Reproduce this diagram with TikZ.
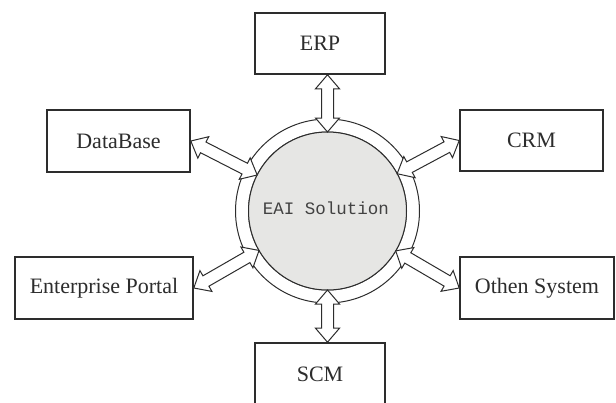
\documentclass[tikz,border=0pt]{standalone}
\usepackage{fontspec}
\setmainfont{Liberation Serif}
\newfontfamily\eaimono{Liberation Mono}
\usetikzlibrary{calc}
\definecolor{ln}{RGB}{45,45,45}
\definecolor{txt}{RGB}{45,45,45}
\definecolor{cfill}{RGB}{230,230,228}
\newcommand\dblarrow[2]{%
 \coordinate (ta) at ($(#1)!14pt!(#2)$);
 \coordinate (tb) at ($(#2)!14pt!(#1)$);
 \draw[arrowline] (#1) -- ($(ta)!12pt!90:(#2)$) -- ($(ta)!6pt!90:(#2)$)
   -- ($(tb)!6pt!-90:(#1)$) -- ($(tb)!12pt!-90:(#1)$) -- (#2)
   -- ($(tb)!12pt!90:(#1)$) -- ($(tb)!6pt!90:(#1)$)
   -- ($(ta)!6pt!-90:(#2)$) -- ($(ta)!12pt!-90:(#2)$) -- cycle;}
\begin{document}
\begin{tikzpicture}[x=1pt,y=-1pt,
  box/.style={draw=ln, line width=1.6pt, fill=white, inner sep=0pt,
    font=\fontsize{22}{24}\selectfont, text=txt},
  arrowline/.style={draw=ln, line width=1pt, fill=white, line join=miter},
  ringline/.style={draw=ln, line width=1pt}]
\useasboundingbox (0,0) rectangle (616,402);
\clip (0,0) rectangle (616,402);
% boxes
\node[box, minimum width=130pt, minimum height=61pt] (erp) at (320,43.5) {ERP};
\node[box, minimum width=143pt, minimum height=62pt] (db) at (118.5,141) {DataBase};
\node[box, minimum width=143pt, minimum height=61pt] (crm) at (531.5,140.5) {CRM};
\node[box, minimum width=178pt, minimum height=62pt] (ep) at (104,288) {Enterprise Portal};
\node[box, minimum width=154pt, minimum height=62pt] (os) at (537,288) {Othen System};
\node[box, minimum width=130pt, minimum height=62pt] (scm) at (320,374) {SCM};
% ring and centre
\draw[ringline, fill=white, even odd rule] (327.5,211) circle (92pt) (327.5,211) circle (79pt);
\node[circle, ringline, fill=cfill, minimum size=158pt, inner sep=0pt] (c) at (327.5,211) {};
\node[text=txt!90!white, font=\eaimono\fontsize{17.5}{20}\selectfont] (lbl) at (326,208) {EAI Solution};
% arrow ends
\coordinate (a1) at (erp.south -| c.center);
\coordinate (b1) at (scm.north -| c.center);
\coordinate (d1) at (db.east);
\coordinate (r1) at (crm.west);
\coordinate (p1) at (ep.east);
\coordinate (o1) at (os.west);
\coordinate (a2) at ($(c.center)!79pt!(a1)$);
\coordinate (b2) at ($(c.center)!79pt!(b1)$);
\coordinate (d2) at ($(c.center)!79pt!(d1)$);
\coordinate (r2) at ($(c.center)!79pt!(r1)$);
\coordinate (p2) at ($(c.center)!79pt!(p1)$);
\coordinate (o2) at ($(c.center)!79pt!(o1)$);
\dblarrow{a1}{a2}
\dblarrow{b1}{b2}
\dblarrow{d1}{d2}
\dblarrow{r1}{r2}
\dblarrow{p1}{p2}
\dblarrow{o1}{o2}
\end{tikzpicture}
\end{document}
